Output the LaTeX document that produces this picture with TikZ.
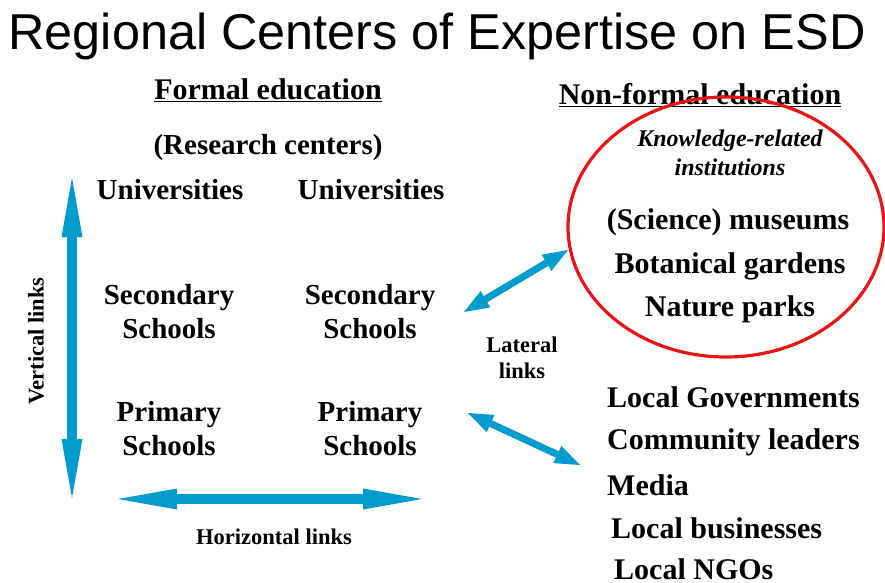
\documentclass[tikz,border=0pt]{standalone}
\usepackage{fontspec}
\setmainfont{Liberation Serif}
\newfontfamily\titlefont{Liberation Sans}
\usetikzlibrary{arrows.meta}
\definecolor{linkblue}{RGB}{0,156,206}
\definecolor{ringred}{RGB}{235,20,20}
\tikzset{
  body/.style={font=\fontsize{29}{34}\selectfont\bfseries, align=center, inner sep=0pt},
  rbody/.style={font=\fontsize{30}{34}\selectfont\bfseries, inner sep=0pt, anchor=west},
  small/.style={font=\fontsize{22.5}{26}\selectfont\bfseries, align=center, inner sep=0pt},
  bigarrow/.style={line width=9.5pt, draw=linkblue, {Triangle[length=59pt,width=21pt,line width=0pt]}-{Triangle[length=59pt,width=21pt,line width=0pt]}},
  latarrow/.style={line width=7pt, draw=linkblue, {Triangle[length=25pt,width=19pt,line width=0pt]}-{Triangle[length=25pt,width=19pt,line width=0pt]}}
}
\begin{document}
\begin{tikzpicture}[x=1pt,y=-1pt]
\useasboundingbox (0,0) rectangle (885,582);
\node[inner sep=0pt, font=\fontsize{50.4}{56}\selectfont\titlefont] (title) at (437,36) {Regional Centers of Expertise on ESD};
\node[body, font=\fontsize{30}{34}\selectfont\bfseries] (formal) at (268,90) {\underline{Formal education}};
\node[body, font=\fontsize{30}{34}\selectfont\bfseries] (nonformal) at (700,95) {\underline{Non-formal education}};
\node[body] (research) at (268,148) {(Research centers)};
\node[body] (uni1) at (170,190) {Universities};
\node[body] (uni2) at (371,190) {Universities};
\node[body] (sec1) at (169,312) {Secondary\\Schools};
\node[body] (sec2) at (370,312) {Secondary\\Schools};
\node[body] (pri1) at (169,429) {Primary\\Schools};
\node[body] (pri2) at (370,429) {Primary\\Schools};
\node[small, rotate=90] (vlab) at (36,341) {Vertical links};
\node[small] (hlab) at (274,537) {Horizontal links};
\node[small] (llab) at (522,358) {Lateral\\links};
% arrows
\coordinate (vtop) at (72,178);
\coordinate (vbot) at (72,498);
\coordinate (hl) at (118,499);
\coordinate (hr) at (422,499);
\coordinate (la1) at (464,312);
\coordinate (la2) at (568,250);
\coordinate (lb1) at (468,413);
\coordinate (lb2) at (580,465);
\draw[bigarrow] (vtop) -- (vbot);
\draw[bigarrow] (hl) -- (hr);
\draw[latarrow] (la1) -- (la2);
\draw[latarrow] (lb1) -- (lb2);
% ellipse
\draw[ringred, line width=3.2pt] (726,227) ellipse [x radius=158pt, y radius=130pt];
\node[font=\fontsize{24}{29}\selectfont\bfseries\itshape, align=center, inner sep=0pt] (know) at (730,153) {Knowledge-related\\institutions};
\node[body, font=\fontsize{30}{34}\selectfont\bfseries] (mus) at (728,222) {(Science) museums};
\node[body, font=\fontsize{30}{34}\selectfont\bfseries] (bot) at (730,266) {Botanical gardens};
\node[body, font=\fontsize{30}{34}\selectfont\bfseries] (nat) at (730,309) {Nature parks};
% right list
\node[rbody] (lg) at (607,397) {Local Governments};
\node[rbody] (cl) at (607,442) {Community leaders};
\node[rbody] (med) at (607,485) {Media};
\node[rbody] (lb) at (611,528) {Local businesses};
\node[rbody] (ngo) at (614,569) {Local NGOs};
\end{tikzpicture}
\end{document}
